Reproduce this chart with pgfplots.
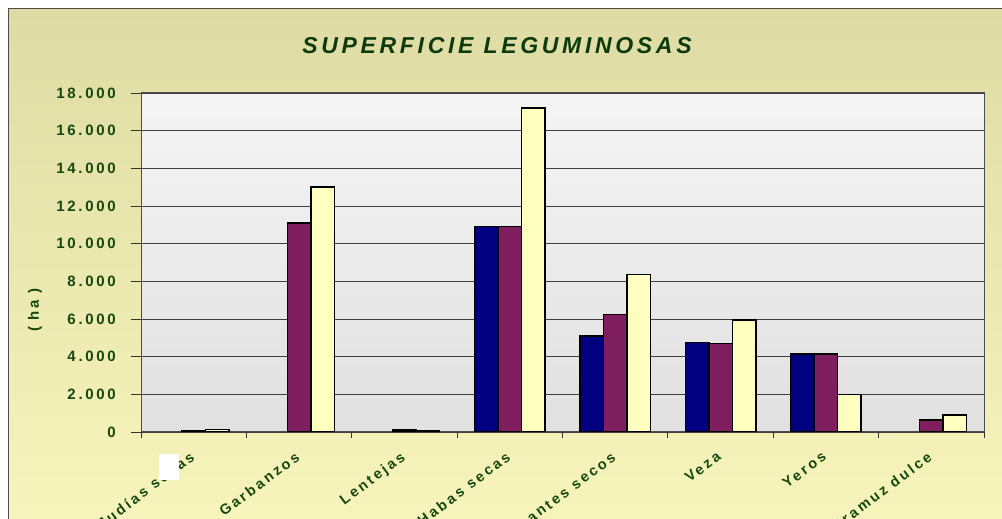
\documentclass[border=0pt]{standalone}
\usepackage{fontspec}
\setmainfont{Liberation Sans}
\usepackage{pgfplots}
\pgfplotsset{compat=1.18}
\definecolor{bgtop}{RGB}{222,220,164}
\definecolor{bgbot}{RGB}{248,246,188}
\definecolor{txtgreen}{RGB}{22,72,12}
\definecolor{ttlgreen}{RGB}{12,58,10}
\definecolor{sone}{RGB}{0,0,128}
\definecolor{stwo}{RGB}{127,31,95}
\definecolor{sthree}{RGB}{255,255,192}
\newfontfamily\spacedfont[LetterSpace=18]{Liberation Sans}
\newfontfamily\titlefont[LetterSpace=16]{Liberation Sans}
\begin{document}
\begin{tikzpicture}[x=1pt,y=1pt]
\fill[white] (0,0) rectangle (1002,519);
\shade[top color=bgtop, bottom color=bgbot] (8,-30) rectangle (1040,510);
\draw[black!70, line width=1pt] (8,-30) -- (8,510) -- (1040,510);
\begin{axis}[
  at={(141pt,87pt)}, anchor=south west, scale only axis,
  width=843pt, height=339pt,
  xmin=-0.5, xmax=7.5, ymin=0, ymax=18000,
  scaled y ticks=false,
  ybar=0pt, bar width=23.5pt,
  xtick={0,...,7},
  xticklabels={Judías secas,Garbanzos,Lentejas,Habas secas,Guisantes secos,Veza,Yeros,Altramuz dulce},
  minor xtick={-0.5,0.5,...,7.5},
  ytick={0,2000,...,18000},
  yticklabels={0,2.000,4.000,6.000,8.000,10.000,12.000,14.000,16.000,18.000},
  tick align=outside,
  major tick length=10pt, minor tick length=6pt,
  major x tick style={draw=none},
  tick style={black!80, line width=0.9pt},
  xtick pos=bottom, ytick pos=left,
  ymajorgrids,
  grid style={black!75, line width=0.9pt},
  axis background/.style={shade, top color=black!4, bottom color=black!12},
  axis line style={black!70, line width=1pt},
  xticklabel style={font=\spacedfont\bfseries\fontsize{14.5}{14.5}\selectfont, text=txtgreen, rotate=37, anchor=north east, inner sep=0pt, yshift=-4pt, xshift=-9pt},
  yticklabel style={font=\spacedfont\bfseries\fontsize{15}{15}\selectfont, text=txtgreen, inner sep=0pt, xshift=-15pt},
  every axis plot/.append style={draw=black, line width=1.5pt},
]
\addplot[fill=sone] coordinates {(3,10900) (4,5100) (5,4750) (6,4150)};
\addplot[fill=stwo] coordinates {(0,40) (1,11100) (2,100) (3,10900) (4,6230) (5,4690) (6,4150) (7,640)};
\addplot[fill=sthree] coordinates {(0,130) (1,13000) (2,80) (3,17200) (4,8350) (5,5950) (6,2000) (7,900)};
\end{axis}
\node[rotate=90, text=txtgreen, font=\spacedfont\bfseries\fontsize{15}{15}\selectfont] at (35,209) {( ha )};
\node[text=ttlgreen, font=\titlefont\bfseries\itshape\fontsize{23}{23}\selectfont] at (497,473) {SUPERFICIE LEGUMINOSAS};
\fill[white] (159,39) rectangle (179,65);
\pgfresetboundingbox
\path[use as bounding box] (0,0) rectangle (1002,519);
\end{tikzpicture}
\end{document}
